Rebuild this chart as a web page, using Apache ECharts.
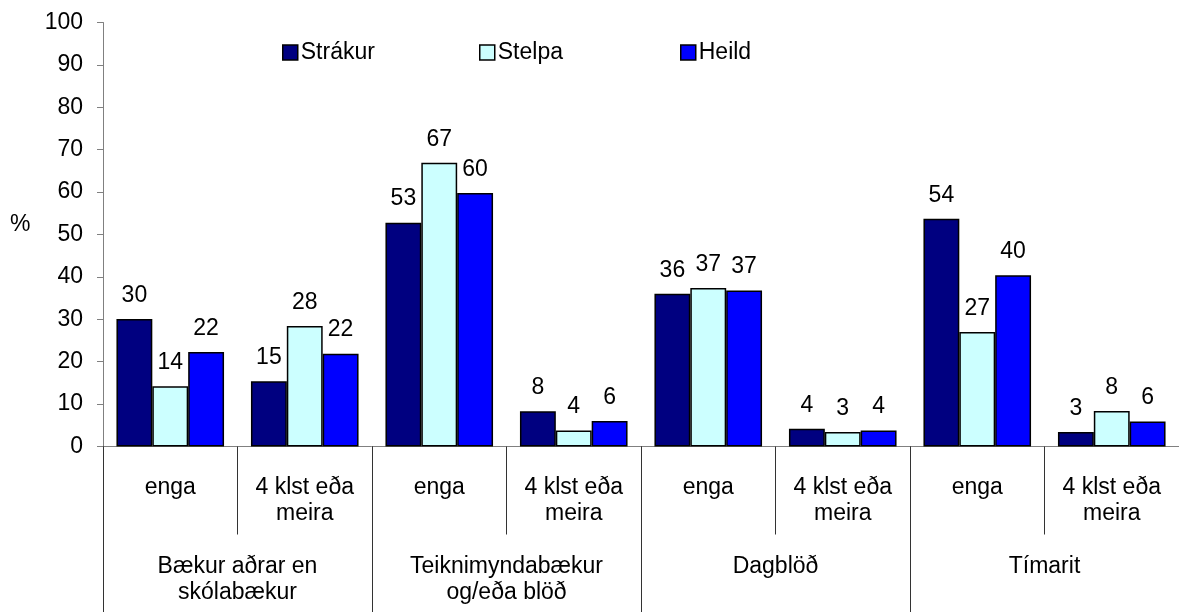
<!DOCTYPE html>
<html>
<head>
<meta charset="utf-8">
<script src="https://cdn.jsdelivr.net/npm/echarts@6/dist/echarts.min.js"></script>
<style>
  html, body { margin: 0; padding: 0; background: #fff; }
  #chart { width: 1179px; height: 612px; }
</style>
</head>
<body>
<div id="chart"></div>
<script>
// sub categories (per bar group) and the main groups below them
const subCategories = ['enga', '4 klst eða\nmeira', 'enga', '4 klst eða\nmeira', 'enga', '4 klst eða\nmeira', 'enga', '4 klst eða\nmeira']
const groups = ['Bækur aðrar en\nskólabækur', 'Teiknimyndabækur\nog/eða blöð', 'Dagblöð', 'Tímarit']

const strakur = [30.1, 15.4, 52.8, 8.3, 36.0, 4.2, 53.7, 3.4]
const stelpa = [14.2, 28.4, 66.9, 3.8, 37.4, 3.4, 27.0, 8.4]
const heild = [22.3, 21.9, 59.8, 6.0, 36.8, 3.8, 40.4, 5.9]

const yTicks = { min: 0, max: 100, interval: 10 }

const font = 'Liberation Sans, Arial, sans-serif'
const fontSize = 23
const axisGray = '#808080'

const chart = echarts.init(document.getElementById('chart'))

function barSeries(name, data, color) {
  return {
    name: name,
    type: 'bar',
    data: data,
    barGap: 0,
    barCategoryGap: '20%',
    itemStyle: { color: color, borderColor: '#000', borderWidth: 1.5 },
    label: {
      show: true,
      position: 'top',
      distance: 12,
      fontSize: fontSize,
      fontFamily: font,
      color: '#000',
      formatter: p => Math.round(p.value)
    }
  }
}

function legendAt(name, left) {
  return {
    data: [name],
    left: left,
    top: 41,
    padding: 0,
    itemWidth: 15,
    itemHeight: 15,
    itemGap: 4,
    icon: 'rect',
    itemStyle: { borderColor: '#000', borderWidth: 1.5 },
    textStyle: { fontSize: fontSize, fontFamily: font, color: '#000', padding: [0, 0, 0, -2] }
  }
}

const option = {
  animation: false,
  backgroundColor: '#fff',
  textStyle: { fontFamily: font },
  legend: [
    legendAt('Strákur', 282),
    legendAt('Stelpa', 479),
    legendAt('Heild', 680)
  ],
  graphic: [
    {
      type: 'text',
      left: 10,
      top: 213,
      style: { text: '%', fontSize: fontSize, fontFamily: font, fill: '#000' }
    }
  ],
  grid: { left: 103, top: 22.5, width: 1083, height: 424 },
  xAxis: [
    {
      type: 'category',
      data: subCategories,
      axisLine: { lineStyle: { color: axisGray, width: 1 } },
      axisTick: { show: true, interval: 0, length: 88, lineStyle: { color: '#333' } },
      axisLabel: { interval: 0, margin: 28, fontSize: fontSize, lineHeight: 26, color: '#000', fontFamily: font }
    },
    {
      type: 'category',
      data: groups,
      position: 'bottom',
      axisLine: { show: false },
      axisTick: { show: true, interval: 0, length: 170, lineStyle: { color: '#333' } },
      axisLabel: { interval: 0, margin: 107, fontSize: fontSize, lineHeight: 26, color: '#000', fontFamily: font }
    }
  ],
  yAxis: {
    type: 'value',
    min: yTicks.min,
    max: yTicks.max,
    interval: yTicks.interval,
    axisLine: { show: true, lineStyle: { color: axisGray } },
    axisTick: { show: true, length: 6, lineStyle: { color: axisGray } },
    axisLabel: { margin: 20, fontSize: fontSize, color: '#000', fontFamily: font },
    splitLine: { show: false }
  },
  series: [
    barSeries('Strákur', strakur, '#000080'),
    barSeries('Stelpa', stelpa, '#CCFFFF'),
    barSeries('Heild', heild, '#0000FF')
  ]
}

chart.setOption(option)
</script>
</body>
</html>
